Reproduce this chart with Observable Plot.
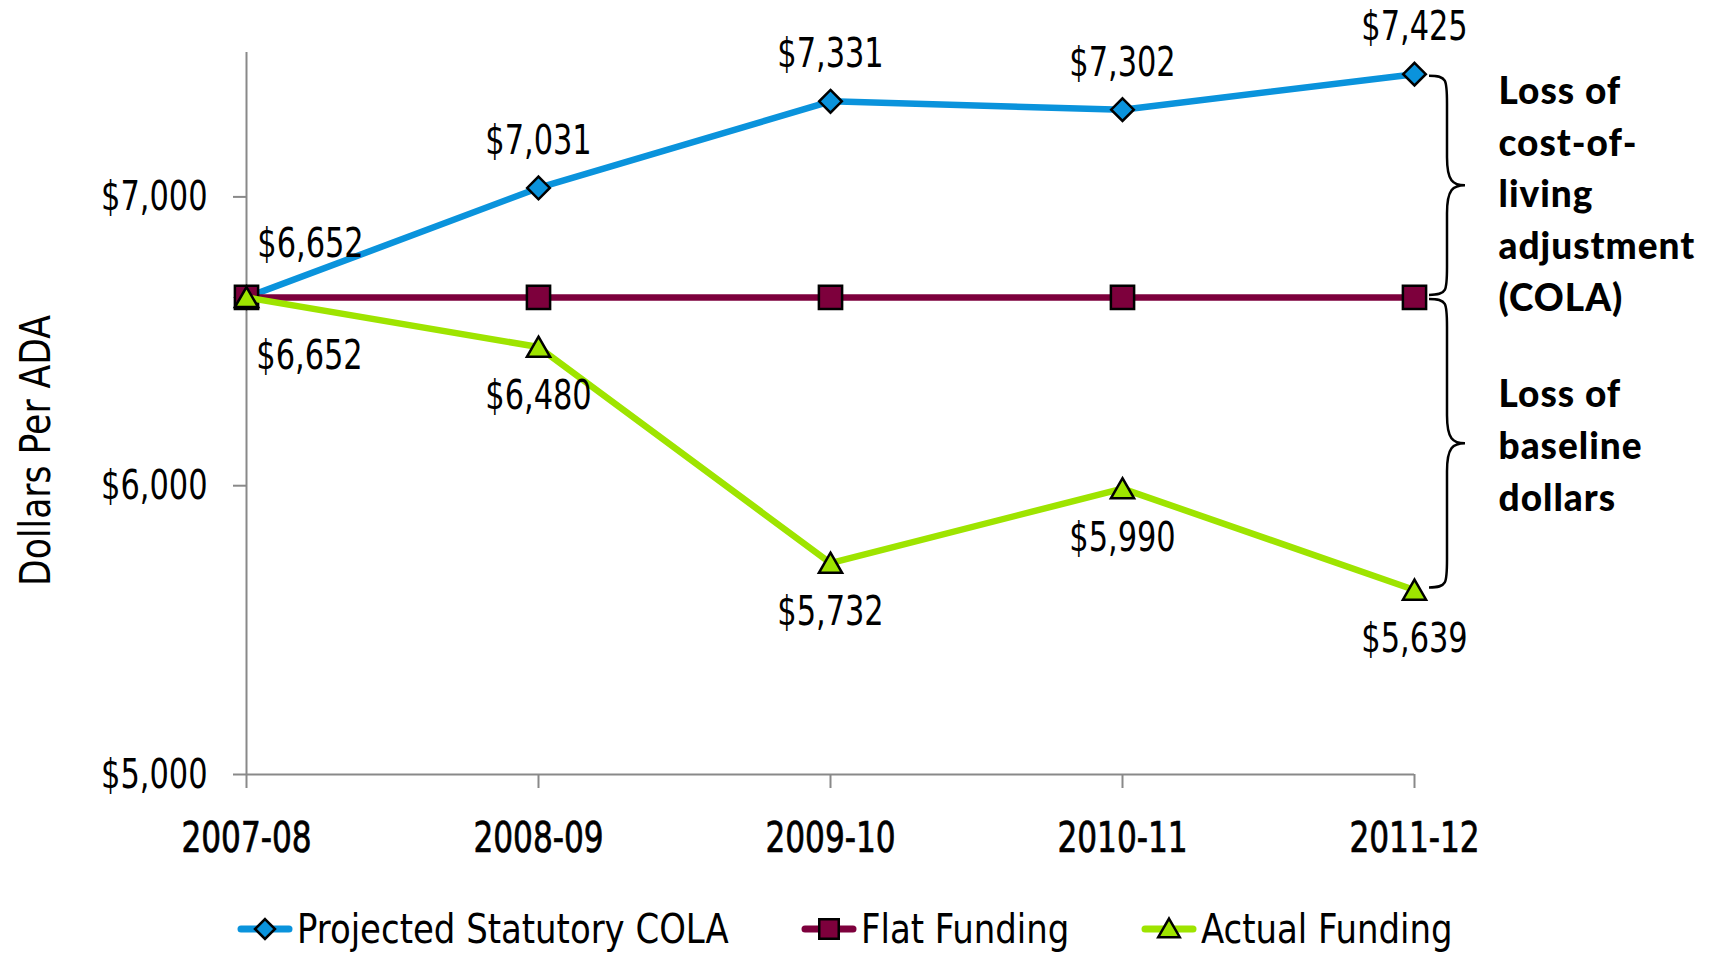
<!DOCTYPE html>
<html><head><meta charset="utf-8">
<script src="https://cdn.jsdelivr.net/npm/d3@7"></script>
<script src="https://cdn.jsdelivr.net/npm/@observablehq/plot@0.6"></script>
<style>
body{margin:0;background:#fff;width:1709px;height:953px;overflow:hidden;position:relative;font-family:"DejaVu Sans Condensed","DejaVu Sans",sans-serif;font-stretch:condensed;}
#legend{position:absolute;left:0;top:900px;width:1709px;height:58px;display:flex;justify-content:center;align-items:center;gap:72px;padding-right:19px;box-sizing:border-box;}
.item{display:flex;align-items:center;font-size:41px;height:58px;white-space:nowrap;}
.item svg{margin-right:4px;}
.item span{display:inline-block;transform:scaleX(0.92);transform-origin:left center;}
</style></head><body>
<div id="chart"></div>
<div id="legend"></div>
<script>
// ---- data ----
const years = ["2007-08", "2008-09", "2009-10", "2010-11", "2011-12"];
const projectedCOLA = [6652, 7031, 7331, 7302, 7425];
const flatFunding = [6652, 6652, 6652, 6652, 6652];
const actualFunding = [6652, 6480, 5732, 5990, 5639];
const seriesNames = ["Projected Statutory COLA", "Flat Funding", "Actual Funding"];
const seriesColors = ["#0A93DC", "#7D003C", "#9EE400"];
const seriesSymbols = ["diamond2", "square", "triangle"];
const yTicks = [5000, 6000, 7000];
const yLabel = "Dollars Per ADA";
const annotations = ["Loss of\ncost-of-\nliving\nadjustment\n(COLA)", "Loss of\nbaseline\ndollars"];

const narrow = '"DejaVu Sans Condensed","DejaVu Sans",sans-serif';
const money = d => "$" + d3.format(",")(d);

const rows = (arr, s) => years.map((yr, i) => ({year: yr, value: arr[i], series: s, i}));
const blue = rows(projectedCOLA, seriesNames[0]);
const flat = rows(flatFunding, seriesNames[1]);
const green = rows(actualFunding, seriesNames[2]);

const last = years.length - 1;
const annoData = [
  {year: years[last], value: (projectedCOLA[last] + flatFunding[last]) / 2, text: annotations[0], k: 0},
  {year: years[last], value: (flatFunding[last] + actualFunding[last]) / 2, text: annotations[1], k: 1}
];

function braces(index, scales) {
  const x = scales.x(years[last]);
  const y = scales.y;
  const g = d3.create("svg:g").attr("fill", "none").attr("stroke", "black").attr("stroke-width", 2.5);
  const pairs = [[projectedCOLA[last], flatFunding[last]], [flatFunding[last], actualFunding[last]]];
  for (const [a, b] of pairs) {
    const y0 = y(a) + 2, y1 = y(b) - 2, ym = (y0 + y1) / 2;
    const x0 = x + 15, x1 = x + 33, x2 = x + 51;
    const p = d3.path();
    p.moveTo(x0, y0);
    p.bezierCurveTo(x1, y0, x1, y0 + 4, x1, y0 + 28);
    p.lineTo(x1, ym - 28);
    p.bezierCurveTo(x1, ym - 4, x1 + 6, ym, x2, ym);
    p.bezierCurveTo(x1 + 6, ym, x1, ym + 4, x1, ym + 28);
    p.lineTo(x1, y1 - 28);
    p.bezierCurveTo(x1, y1 - 4, x1, y1, x0, y1);
    g.append("path").attr("d", p.toString());
  }
  return g.node();
}

const lineOpts = (c) => ({x: "year", y: "value", stroke: c, strokeWidth: 6.5, strokeLinejoin: "round"});
const dotOpts = (c, s, r, dy = 0) => ({x: "year", y: "value", symbol: s, r, fill: c, stroke: "black", strokeWidth: 2.5, dy});
const annoOpts = {x: "year", y: "value", text: "text", dx: 84, textAnchor: "start", lineAnchor: "middle", lineHeight: 1.4, fontFamily: "Lato, 'Open Sans', sans-serif", fontWeight: 900, fontSize: 37, fill: "black", className: "wide"};

const plot = Plot.plot({
  width: 1709,
  height: 890,
  marginLeft: 246,
  marginRight: 295,
  marginTop: 52,
  marginBottom: 116,
  style: {fontFamily: narrow, fontSize: "41px", background: "#fff", color: "black", overflow: "visible"},
  x: {type: "point", domain: years, padding: 0},
  y: {domain: [5000, 7500]},
  marks: [
    Plot.ruleY([5000], {stroke: "#898989", strokeWidth: 2}),
    Plot.ruleX([years[0]], {stroke: "#898989", strokeWidth: 2}),
    Plot.axisY({ticks: yTicks, tickFormat: money, tickSize: 13, tickPadding: 26, stroke: "#898989", strokeWidth: 2, fill: "black", fontSize: 41, label: null}),
    Plot.axisX({tickSize: 14, tickPadding: 34, stroke: "#898989", strokeWidth: 2, fill: "black", fontSize: 42, label: null, className: "xlab"}),
    Plot.text([yLabel], {frameAnchor: "left", textAnchor: "middle", rotate: -90, dx: -210, dy: 37, fontSize: 43, fill: "black", className: "ylab"}),
    Plot.line(blue, lineOpts(seriesColors[0])),
    Plot.dot(blue, dotOpts(seriesColors[0], seriesSymbols[0], 10.2)),
    Plot.line(flat, lineOpts(seriesColors[1])),
    Plot.dot(flat, dotOpts(seriesColors[1], seriesSymbols[1], 13.1)),
    Plot.line(green, lineOpts(seriesColors[2])),
    Plot.dot(green, dotOpts(seriesColors[2], seriesSymbols[2], 8.6, 3)),
    Plot.text(blue, {filter: d => d.i > 0, x: "year", y: "value", text: d => money(d.value), dy: -47, fontSize: 41, fill: "black"}),
    Plot.text(blue, {filter: d => d.i === 0, x: "year", y: "value", text: d => money(d.value), dx: 64, dy: -54, fontSize: 41, fill: "black"}),
    Plot.text(green, {filter: d => d.i > 0, x: "year", y: "value", text: d => money(d.value), dy: 49, fontSize: 41, fill: "black"}),
    Plot.text(green, {filter: d => d.i === 0, x: "year", y: "value", text: d => money(d.value), dx: 63, dy: 58, fontSize: 41, fill: "black"}),
    braces,
    Plot.text(annoData, {...annoOpts, filter: d => d.k === 0, dy: 5}),
    Plot.text(annoData, {...annoOpts, filter: d => d.k === 1, dy: -1})
  ]
});

// condense the narrow-font texts horizontally around their anchor
plot.querySelectorAll("text").forEach(t => {
  if (t.closest(".wide")) return;
  const SX = t.closest(".ylab") ? 0.895 : 0.825;
  const tr = t.getAttribute("transform");
  if (tr) {
    t.setAttribute("transform", tr + ` scale(${SX},1)`);
  } else {
    const x = +(t.getAttribute("x") || 0), y = +(t.getAttribute("y") || 0);
    t.removeAttribute("x"); t.removeAttribute("y");
    t.setAttribute("transform", `translate(${x},${y}) scale(${SX},1)`);
  }
});
plot.querySelectorAll(".xlab text").forEach(t => { t.setAttribute("stroke", "black"); t.setAttribute("stroke-width", 0.7); });
plot.querySelectorAll(".wide text").forEach(t => { t.setAttribute("letter-spacing", "1"); });
document.getElementById("chart").appendChild(plot);

// legend
const legend = d3.select("#legend");
seriesNames.forEach((name, k) => {
  const item = legend.append("div").attr("class", "item");
  const svg = item.append("svg").attr("width", 56).attr("height", 34);
  svg.append("line").attr("x1", 4).attr("x2", 52).attr("y1", 17).attr("y2", 17)
    .attr("stroke", seriesColors[k]).attr("stroke-width", 7).attr("stroke-linecap", "round");
  const sym = [d3.symbolDiamond2, d3.symbolSquare, d3.symbolTriangle][k];
  const size = [Math.PI * 9 * 9, Math.PI * 11 * 11, Math.PI * 8 * 8][k];
  svg.append("path").attr("d", d3.symbol(sym, size)()).attr("transform", `translate(28,${k === 2 ? 19 : 17})`)
    .attr("fill", seriesColors[k]).attr("stroke", "black").attr("stroke-width", 2.5);
  const span = item.append("span").text(name).node();
  const w = span.offsetWidth;
  span.style.marginRight = (-(1 - 0.92) * w) + "px";
});
</script>
</body></html>
